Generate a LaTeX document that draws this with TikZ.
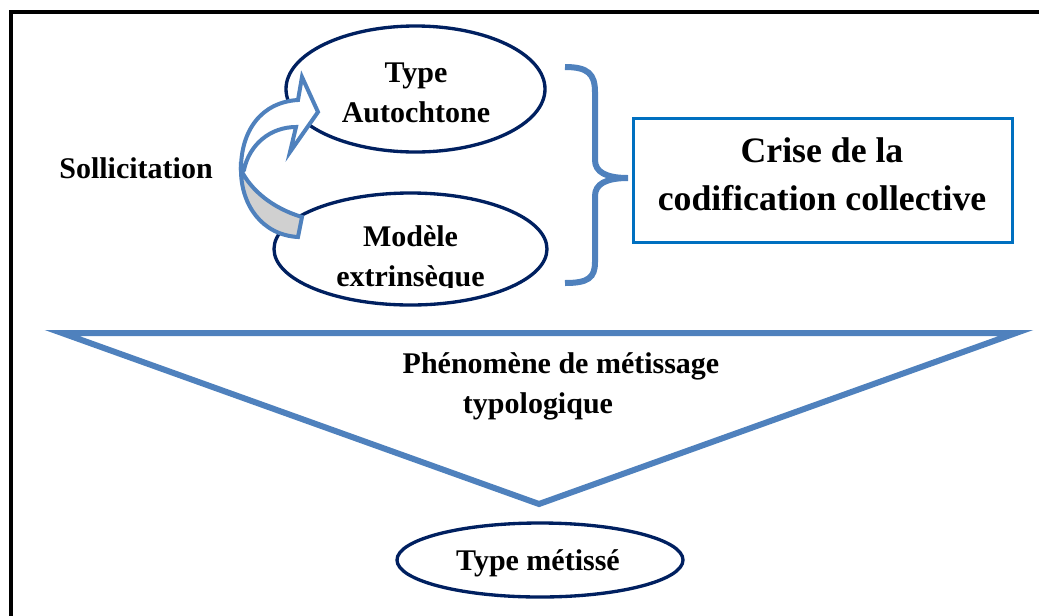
\documentclass[tikz,border=0pt]{standalone}
\usepackage{fontspec}
\setmainfont{Liberation Serif}
\usetikzlibrary{shapes.geometric}
\definecolor{navy}{RGB}{0,32,96}
\definecolor{accent}{RGB}{79,129,189}
\definecolor{boxblue}{RGB}{0,112,192}
\definecolor{greyfill}{RGB}{208,208,208}
\begin{document}
\begin{tikzpicture}[x=0.75pt,y=-0.75pt,
  oval/.style={draw=navy, line width=2.5pt, ellipse, inner sep=0pt, fill=white},
  lbl/.style={font=\fontsize{22.5}{30}\selectfont\bfseries, align=center, inner sep=0pt},
  big/.style={font=\fontsize{26.8}{35.5}\selectfont\bfseries, align=center, inner sep=0pt},
  accentline/.style={draw=accent, line width=4.5pt},
  arrowband/.style={draw=accent, line width=3pt, line join=miter},
]
\useasboundingbox (0,0) rectangle (1039,615);
% frame
\draw[line width=3pt] (10.5,625) -- (10.5,12) -- (1045,12);
% triangle
\coordinate (tl) at (62,333);
\coordinate (tr) at (1016,333);
\coordinate (tb) at (539,504);
\draw[accentline, line join=miter] (tl) -- (tr) -- (tb) -- cycle;
\node[lbl, anchor=base] (phen1) at (561,373.3) {Phénomène de métissage};
\node[lbl, anchor=base] (phen2) at (538,413.3) {typologique};
% ellipses
\node[oval, minimum width=194.25pt, minimum height=94.5pt] (e1) at (415.5,89) {};
\node[lbl] (t1) at (416,92.5) {Type\\Autochtone};
\node[oval, minimum width=204.75pt, minimum height=84pt] (e2) at (410.5,249) {};
\begin{scope}
\clip (0,0) rectangle (1039,287.5);
\node[lbl] (t2) at (410.5,259.5) {Modèle\\extrinsèque};
\end{scope}
\node[oval, minimum width=214.5pt, minimum height=55.5pt] (e3) at (540,560) {};
\node[lbl, anchor=base] (t3) at (538,570) {Type métissé};
% label
\node[lbl, anchor=base] (soll) at (136,178.3) {Sollicitation};
% curved arrow
\filldraw[arrowband, fill=greyfill] (298,237) .. controls (262,235) and (241,205) .. (241,170)
  .. controls (251,190) and (272,208) .. (302,217) -- cycle;
\filldraw[arrowband, fill=white] (241,172) .. controls (240,130) and (262,102) .. (298,100)
  -- (302,77) -- (318,112) -- (290,152) -- (296,127)
  .. controls (270,127) and (249,145) .. (244,170) -- cycle;
% brace
\coordinate (bt) at (565,67);
\coordinate (bm) at (628,178);
\coordinate (bb) at (565,283);
\draw[accentline] (bt) .. controls (588,67) and (595,74) .. (595,92) -- (595,160)
  .. controls (595,172) and (606,178) .. (bm)
  .. controls (606,178) and (595,184) .. (595,196) -- (595,262)
  .. controls (595,278) and (588,283) .. (bb);
% box
\node[draw=boxblue, line width=2.25pt, minimum width=284.25pt, minimum height=93pt, inner sep=0pt] (crise) at (822.5,180) {};
\node[big] (criset) at (822,174.2) {Crise de la\\codification collective};
\end{tikzpicture}
\end{document}
